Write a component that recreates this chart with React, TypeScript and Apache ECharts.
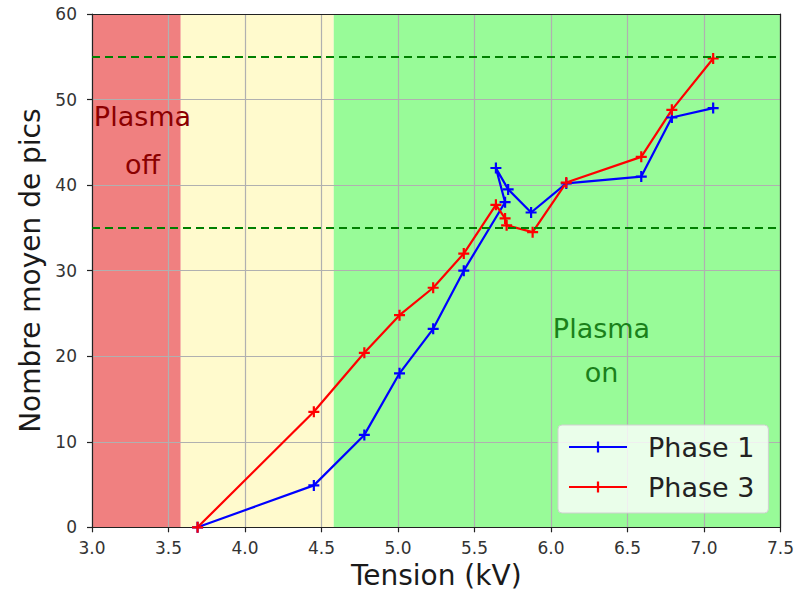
import React, { useEffect, useRef } from "react";
import * as echarts from "echarts";

// ---- data ----
const xTicks = [3.0, 3.5, 4.0, 4.5, 5.0, 5.5, 6.0, 6.5, 7.0, 7.5];
const yTicks = [0, 10, 20, 30, 40, 50, 60];

const phase1X = [3.69, 4.45, 4.78, 5.01, 5.23, 5.43, 5.70, 5.64, 5.72, 5.87, 6.10, 6.59, 6.79, 7.06];
const phase1Y = [0, 4.9, 10.8, 18.0, 23.2, 30.0, 38.0, 42.0, 39.5, 36.8, 40.2, 41.0, 47.9, 49.0];

const phase3X = [3.69, 4.45, 4.78, 5.01, 5.23, 5.43, 5.64, 5.70, 5.71, 5.88, 6.10, 6.59, 6.79, 7.06];
const phase3Y = [0, 13.5, 20.4, 24.8, 28.0, 32.0, 37.7, 36.1, 35.3, 34.5, 40.3, 43.3, 48.8, 54.8];

const regionBounds = [3.0, 3.58, 4.58, 7.5];
const regionColors = ["#f08080", "#fffacd", "#98fb98"];
const thresholdLines = [35, 55];

const offLabelPos = [3.33, 45.2];
const onLabelPos = [6.33, 20.7];

const PLUS = "path://M4,0H6V4H10V6H6V10H4V6H0V4H4Z";
const FONT = "DejaVu Sans";

export default function App() {
  const ref = useRef<HTMLDivElement>(null);

  useEffect(() => {
    if (!ref.current) return;
    const chart = echarts.init(ref.current, null, { renderer: "svg" });

    const areas = regionColors.map((c, i) => [
      { xAxis: regionBounds[i], yAxis: 0, itemStyle: { color: c, opacity: 1 } },
      { xAxis: regionBounds[i + 1], yAxis: 60 },
    ]);

    const p1 = phase1X.map((x, i) => [x, phase1Y[i]]);
    const p3 = phase3X.map((x, i) => [x, phase3Y[i]]);

    const option: any = {
      animation: false,
      textStyle: { fontFamily: FONT },
      grid: { left: 92, right: 15.5, top: 14, bottom: 67.7, show: false },
      legend: {
        data: ["Phase 1", "Phase 3"],
        orient: "vertical",
        left: 558,
        top: 425,
        padding: [7, 14, 11, 10],
        itemGap: 10,
        itemWidth: 58,
        itemHeight: 14,
        backgroundColor: "rgba(255,255,255,0.8)",
        borderColor: "#d0d0d0",
        borderWidth: 1,
        borderRadius: 4,
        textStyle: {
          fontFamily: FONT,
          fontSize: 27,
          lineHeight: 30,
          color: "#222",
          padding: [0, 0, 0, 16],
        },
      },
      xAxis: [
        {
          type: "value",
          min: 3,
          max: 7.5,
          interval: 0.5,
          z: 2,
          name: "Tension (kV)",
          nameLocation: "middle",
          nameGap: 26,
          nameTextStyle: { fontFamily: FONT, fontSize: 28, color: "#1a1a1a", verticalAlign: "top" },
          axisLine: { show: true, onZero: false, lineStyle: { color: "#222", width: 1.2 } },
          axisTick: { show: true, length: 5, lineStyle: { color: "#222", width: 1.2 } },
          axisLabel: {
            fontFamily: FONT,
            fontSize: 17,
            color: "#333",
            margin: 12,
            formatter: (v: number) => v.toFixed(1),
          },
          splitLine: { show: true, lineStyle: { color: "#b0b0b0", width: 1.2 } },
        },
        {
          type: "value",
          position: "top",
          min: 3,
          max: 7.5,
          z: 4,
          axisLine: { show: true, onZero: false, lineStyle: { color: "#222", width: 1.2 } },
          axisTick: { show: false },
          axisLabel: { show: false },
          splitLine: { show: false },
        },
      ],
      yAxis: [
        {
          type: "value",
          min: 0,
          max: 60,
          interval: 10,
          z: 2,
          name: "Nombre moyen de pics",
          nameLocation: "middle",
          nameGap: 46,
          nameTextStyle: { fontFamily: FONT, fontSize: 28, color: "#1a1a1a" },
          axisLine: { show: true, onZero: false, lineStyle: { color: "#222", width: 1.2 } },
          axisTick: { show: true, length: 5, lineStyle: { color: "#222", width: 1.2 } },
          axisLabel: { fontFamily: FONT, fontSize: 17, color: "#333", margin: 15 },
          splitLine: { show: true, lineStyle: { color: "#b0b0b0", width: 1.2 } },
        },
        {
          type: "value",
          position: "right",
          min: 0,
          max: 60,
          z: 4,
          axisLine: { show: true, onZero: false, lineStyle: { color: "#222", width: 1.2 } },
          axisTick: { show: false },
          axisLabel: { show: false },
          splitLine: { show: false },
        },
      ],
      series: [
        {
          name: "regions",
          type: "line",
          data: [],
          z: 1,
          silent: true,
          markArea: { silent: true, z: 1, data: areas },
          markPoint: {
            silent: true,
            symbol: "circle",
            symbolSize: 1,
            itemStyle: { color: "rgba(0,0,0,0)" },
            data: [
              {
                coord: offLabelPos,
                label: {
                  show: true,
                  position: "inside",
                  formatter: "Plasma\noff",
                  fontFamily: FONT,
                  fontSize: 27,
                  lineHeight: 48,
                  align: "center",
                  color: "#8b0000",
                },
              },
              {
                coord: onLabelPos,
                label: {
                  show: true,
                  position: "inside",
                  formatter: "Plasma\non",
                  fontFamily: FONT,
                  fontSize: 27,
                  lineHeight: 44,
                  align: "center",
                  color: "#1a801a",
                },
              },
            ],
          },
          markLine: {
            silent: true,
            symbol: "none",
            label: { show: false },
            lineStyle: { color: "#008000", width: 2, type: [8, 5] },
            data: thresholdLines.map((v) => ({ yAxis: v })),
          },
        },
        {
          name: "Phase 1",
          type: "line",
          z: 3,
          data: p1,
          symbol: PLUS,
          symbolSize: 11,
          color: "#0000ff",
          itemStyle: { color: "#0000ff" },
          lineStyle: { color: "#0000ff", width: 2.2 },
        },
        {
          name: "Phase 3",
          type: "line",
          z: 3,
          data: p3,
          symbol: PLUS,
          symbolSize: 11,
          color: "#ff0000",
          itemStyle: { color: "#ff0000" },
          lineStyle: { color: "#ff0000", width: 2.2 },
        },
      ],
    };

    chart.setOption(option);
    return () => chart.dispose();
  }, []);

  return (
    <div
      ref={ref}
      style={{ position: "fixed", left: 0, top: 0, width: 797, height: 595, background: "#fff" }}
    />
  );
}
